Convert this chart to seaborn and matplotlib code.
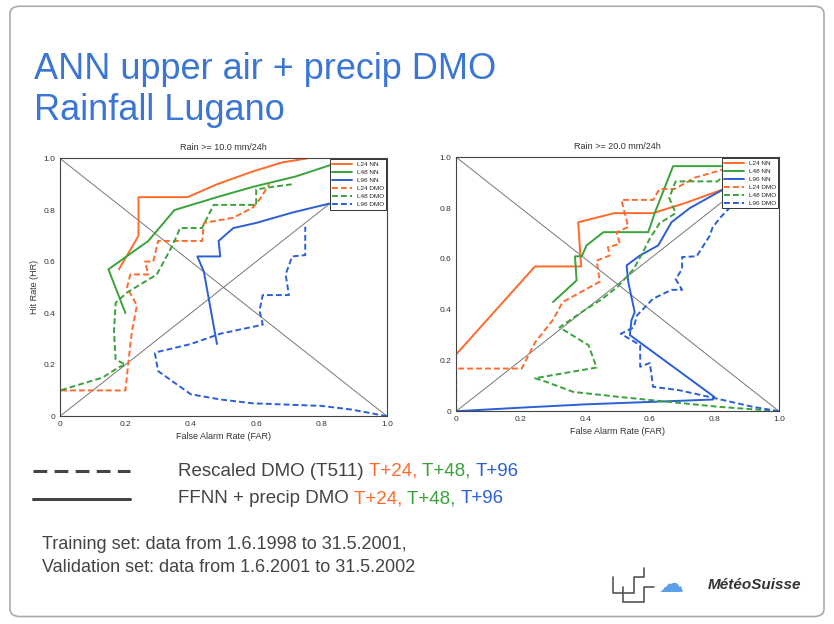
import matplotlib.pyplot as plt
import matplotlib.lines as mlines
import matplotlib.patches as mpatches
import pandas as pd
import seaborn as sns

# --- data ---
series_names = ["L24 NN", "L48 NN", "L96 NN", "L24 DMO", "L48 DMO", "L96 DMO"]
series_colors = ["#ff6a2a", "#3aa23a", "#2a5fd8", "#ff6a2a", "#3aa23a", "#2a5fd8"]

# Rain >= 10.0 mm/24h
far10_l24_nn = [0.18, 0.24, 0.24, 0.39, 0.48, 0.59, 0.68, 0.755]
hr10_l24_nn = [0.57, 0.70, 0.85, 0.85, 0.90, 0.95, 0.985, 1.0]
far10_l48_nn = [0.20, 0.148, 0.27, 0.35, 0.48, 0.59, 0.72, 0.84, 0.89]
hr10_l48_nn = [0.40, 0.57, 0.68, 0.80, 0.85, 0.89, 0.93, 0.98, 1.0]
far10_l96_nn = [0.48, 0.44, 0.42, 0.49, 0.485, 0.53, 0.60, 0.71, 0.84, 0.90]
hr10_l96_nn = [0.28, 0.56, 0.62, 0.62, 0.68, 0.73, 0.75, 0.79, 0.83, 0.85]
far10_l24_dmo = [0, 0, 0.20, 0.21, 0.22, 0.235, 0.205, 0.215, 0.27, 0.26, 0.285, 0.30,
                 0.435, 0.44, 0.53, 0.59, 0.61, 0.64]
hr10_l24_dmo = [0, 0.10, 0.10, 0.22, 0.33, 0.43, 0.50, 0.55, 0.55, 0.60, 0.60, 0.68,
                0.68, 0.75, 0.77, 0.81, 0.84, 0.90]
far10_l48_dmo = [0, 0, 0.13, 0.18, 0.20, 0.17, 0.165, 0.17, 0.205, 0.296, 0.347, 0.367,
                 0.434, 0.47, 0.60, 0.60, 0.65, 0.71]
hr10_l48_dmo = [0, 0.10, 0.15, 0.19, 0.20, 0.22, 0.33, 0.44, 0.48, 0.55, 0.67, 0.73,
                0.73, 0.82, 0.82, 0.88, 0.89, 0.90]
far10_l96_dmo = [1.0, 0.89, 0.80, 0.59, 0.49, 0.40, 0.30, 0.29, 0.30, 0.40, 0.49, 0.62,
                 0.61, 0.62, 0.70, 0.69, 0.71, 0.75, 0.75]
hr10_l96_dmo = [0, 0.026, 0.04, 0.05, 0.065, 0.085, 0.175, 0.245, 0.25, 0.28, 0.32, 0.355,
                0.41, 0.47, 0.47, 0.55, 0.62, 0.625, 0.735]

# Rain >= 20.0 mm/24h
far20_l24_nn = [0, 0.244, 0.387, 0.378, 0.49, 0.61, 0.71, 0.83, 0.935]
hr20_l24_nn = [0.224, 0.57, 0.57, 0.744, 0.78, 0.78, 0.82, 0.875, 1.0]
far20_l48_nn = [0.30, 0.373, 0.368, 0.389, 0.404, 0.456, 0.595, 0.615, 0.672, 0.83, 0.91]
hr20_l48_nn = [0.43, 0.515, 0.61, 0.61, 0.653, 0.705, 0.705, 0.78, 0.965, 0.965, 1.0]
far20_l96_nn = [0, 0.2, 0.40, 0.61, 0.796, 0.80, 0.538, 0.543, 0.553, 0.533, 0.528, 0.569,
                0.626, 0.667, 0.724, 0.83, 0.945]
hr20_l96_nn = [0, 0.014, 0.027, 0.037, 0.046, 0.056, 0.30, 0.358, 0.39, 0.51, 0.574, 0.613,
               0.653, 0.744, 0.80, 0.875, 1.0]
far20_l24_dmo = [0, 0, 0.203, 0.244, 0.30, 0.33, 0.373, 0.445, 0.435, 0.476, 0.47, 0.507,
                 0.497, 0.533, 0.512, 0.61, 0.63, 0.677, 0.74, 0.85, 0.93]
hr20_l24_dmo = [0, 0.168, 0.168, 0.27, 0.36, 0.43, 0.46, 0.51, 0.593, 0.613, 0.646, 0.659,
                0.705, 0.725, 0.832, 0.832, 0.875, 0.875, 0.92, 0.96, 1.0]
far20_l48_dmo = [1.0, 0.816, 0.61, 0.507, 0.363, 0.28, 0.244, 0.435, 0.41, 0.32, 0.40, 0.45,
                 0.50, 0.55, 0.58, 0.60, 0.63, 0.68, 0.66, 0.68, 0.81, 0.83, 0.90]
hr20_l48_dmo = [0, 0.017, 0.043, 0.056, 0.076, 0.115, 0.13, 0.172, 0.26, 0.33, 0.40, 0.44,
                0.49, 0.56, 0.63, 0.68, 0.74, 0.78, 0.84, 0.905, 0.905, 0.93, 1.0]
far20_l96_dmo = [1.0, 0.92, 0.806, 0.69, 0.61, 0.60, 0.57, 0.57, 0.51, 0.55, 0.56, 0.61,
                 0.667, 0.70, 0.68, 0.70, 0.70, 0.745, 0.765, 0.785, 0.795, 0.82, 1.0]
hr20_l96_dmo = [0, 0.017, 0.05, 0.083, 0.096, 0.19, 0.175, 0.26, 0.305, 0.33, 0.377, 0.443,
                0.478, 0.478, 0.52, 0.56, 0.607, 0.61, 0.65, 0.69, 0.725, 0.765, 1.0]

tick_values = [0, 0.2, 0.4, 0.6, 0.8, 1.0]
tick_labels = ["0", "0.2", "0.4", "0.6", "0.8", "1.0"]


def build_frame(pairs):
    frames = []
    for name, (far, hr) in zip(series_names, pairs):
        frames.append(pd.DataFrame({"far": far, "hr": hr, "series": name}))
    return pd.concat(frames, ignore_index=True)


def draw_panel(ax, df, title, ylabel):
    ax.plot([0, 1], [0, 1], color="#777777", lw=0.7)
    ax.plot([0, 1], [1, 0], color="#777777", lw=0.7)
    sns.lineplot(
        data=df, x="far", y="hr", hue="series", style="series",
        hue_order=series_names, style_order=series_names,
        palette=dict(zip(series_names, series_colors)),
        dashes={n: ("" if "NN" in n else (3, 1.6)) for n in series_names},
        sort=False, estimator=None, lw=1.4, ax=ax,
    )
    ax.set_xlim(0, 1)
    ax.set_ylim(0, 1)
    ax.set_xticks(tick_values, tick_labels)
    ax.set_yticks(tick_values, tick_labels)
    ax.set_xticks([0.1, 0.3, 0.5, 0.7, 0.9], minor=True)
    ax.set_yticks([0.1, 0.3, 0.5, 0.7, 0.9], minor=True)
    ax.tick_params(which="both", direction="in", labelsize=6, colors="#333333",
                   length=4, width=0.7)
    for s in ax.spines.values():
        s.set_color("#444444")
        s.set_linewidth(0.8)
    ax.set_title(title, fontsize=6.5, color="#333333", pad=6)
    ax.set_xlabel("False Alarm Rate (FAR)", fontsize=6.5, color="#333333", labelpad=3)
    ax.set_ylabel(ylabel, fontsize=6.5, color="#333333", labelpad=3)
    leg = ax.legend(loc="upper right", fontsize=4.6, frameon=True, fancybox=False,
                    handlelength=3.0, borderpad=0.35, labelspacing=0.4,
                    borderaxespad=0.15)
    leg.get_frame().set_edgecolor("#333333")
    leg.get_frame().set_linewidth(0.7)
    leg.get_frame().set_alpha(1)


def color_runs(fig, x, y, runs, size):
    renderer = fig.canvas.get_renderer()
    for text, color in runs:
        t = fig.text(x, y, text, fontsize=size, color=color, va="center", ha="left")
        bb = t.get_window_extent(renderer=renderer)
        x += bb.width / fig.bbox.width


sns.set_theme(style="white")
plt.rcParams["font.family"] = ["Liberation Sans", "DejaVu Sans"]

fig = plt.figure(figsize=(8.34, 6.24), dpi=100)
fig.patch.set_facecolor("white")

frame = mpatches.FancyBboxPatch((0.012, 0.012), 0.976, 0.978,
                                boxstyle="round,pad=0,rounding_size=0.012",
                                transform=fig.transFigure, fill=False,
                                edgecolor="#aaaaaa", lw=1.2)
fig.add_artist(frame)

fig.text(0.041, 0.888, "ANN upper air + precip DMO", fontsize=26, color="#3b76d4",
         va="center")
fig.text(0.041, 0.823, "Rainfall Lugano", fontsize=26, color="#3b76d4", va="center")

ax1 = fig.add_axes([0.072, 0.333, 0.392, 0.413])
ax2 = fig.add_axes([0.547, 0.341, 0.387, 0.407])

df10 = build_frame([
    (far10_l24_nn, hr10_l24_nn), (far10_l48_nn, hr10_l48_nn), (far10_l96_nn, hr10_l96_nn),
    (far10_l24_dmo, hr10_l24_dmo), (far10_l48_dmo, hr10_l48_dmo), (far10_l96_dmo, hr10_l96_dmo),
])
df20 = build_frame([
    (far20_l24_nn, hr20_l24_nn), (far20_l48_nn, hr20_l48_nn), (far20_l96_nn, hr20_l96_nn),
    (far20_l24_dmo, hr20_l24_dmo), (far20_l48_dmo, hr20_l48_dmo), (far20_l96_dmo, hr20_l96_dmo),
])
draw_panel(ax1, df10, "Rain >= 10.0 mm/24h", "Hit Rate (HR)")
draw_panel(ax2, df20, "Rain >= 20.0 mm/24h", "")

# bottom key
fig.add_artist(mlines.Line2D([0.04, 0.156], [0.245, 0.245], color="#444444", lw=2.2,
                             dashes=(4.5, 2.4), transform=fig.transFigure))
fig.add_artist(mlines.Line2D([0.04, 0.156], [0.201, 0.201], color="#444444", lw=2.2,
                             transform=fig.transFigure))
color_runs(fig, 0.213, 0.245, [("Rescaled DMO (T511) ", "#444444"), ("T+24, ", "#ff6a2a"),
                               ("T+48, ", "#3aa23a"), ("T+96", "#2a5fd8")], 13.5)
color_runs(fig, 0.213, 0.201, [("FFNN + precip DMO ", "#444444"), ("T+24, ", "#ff6a2a"),
                               ("T+48, ", "#3aa23a"), ("T+96", "#2a5fd8")], 13.5)
fig.text(0.05, 0.127, "Training set: data from 1.6.1998 to 31.5.2001,", fontsize=13,
         color="#444444", va="center")
fig.text(0.05, 0.090, "Validation set: data from 1.6.2001 to 31.5.2002", fontsize=13,
         color="#444444", va="center")

# logo
fig.add_artist(mlines.Line2D([0.735, 0.735, 0.76, 0.76, 0.772, 0.772],
                             [0.075, 0.05, 0.05, 0.075, 0.075, 0.09],
                             color="#555555", lw=1.2, transform=fig.transFigure))
fig.add_artist(mlines.Line2D([0.747, 0.747, 0.772, 0.772, 0.784],
                             [0.06, 0.035, 0.035, 0.06, 0.06],
                             color="#555555", lw=1.2, transform=fig.transFigure))
fig.text(0.805, 0.062, "☁", fontsize=18, color="#5aa0e8", va="center", ha="center",
         family=["DejaVu Sans"])
fig.text(0.905, 0.062, "MétéoSuisse", fontsize=11, color="#333333", va="center",
         ha="center", fontweight="bold", fontstyle="italic")

fig.savefig("out.png", dpi=100)
